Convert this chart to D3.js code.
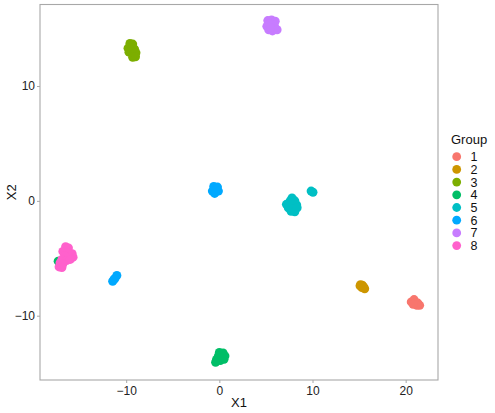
<!DOCTYPE html>
<html>
<head>
<meta charset="utf-8">
<script src="https://cdn.jsdelivr.net/npm/d3@7"></script>
<style>
  body { margin: 0; background: #fff; }
  svg text { font-family: "Liberation Sans", Arial, sans-serif; }
</style>
</head>
<body>
<div id="chart"></div>
<script>
"use strict";

// groups and their colours (ggplot hue palette)
const groups = ["1", "2", "3", "4", "5", "6", "7", "8"];
const colors = ["#F8766D", "#CD9600", "#7CAE00", "#00BE67", "#00BFC4", "#00A9FF", "#C77CFF", "#FF61CC"];

// point coordinates per group [X1, X2]
const group1 = [[20.6,-8.8],[20.9,-8.6],[21.0,-8.9],[21.3,-8.9],[21.5,-9.1],[21.2,-9.1],[20.8,-9.0]];
const group2 = [[15.15,-7.3],[15.35,-7.35],[15.5,-7.5],[15.6,-7.65],[15.3,-7.55],[15.1,-7.4]];
const group3 = [[-9.6,13.7],[-9.3,13.65],[-9.8,13.3],[-9.4,13.3],[-9.1,13.2],[-9.7,12.95],[-9.2,12.8],[-8.95,12.9],[-9.3,12.5],[-9.0,12.55]];
const group4 = [[0.0,-13.2],[0.4,-13.25],[0.6,-13.5],[-0.1,-13.5],[0.3,-13.7],[-0.3,-13.8],[0.1,-13.9],[-0.4,-14.05],[0.5,-13.8],[-17.3,-5.25]];
const group5 = [[7.8,0.25],[7.6,0.0],[8.1,0.0],[7.2,-0.3],[7.7,-0.35],[8.3,-0.35],[7.4,-0.6],[7.9,-0.7],[8.35,-0.6],[7.7,-0.9],[8.1,-0.95],[9.85,0.85],[10.05,0.75]];
const group6 = [[-0.6,1.25],[-0.2,1.2],[-0.75,0.85],[-0.3,0.9],[-0.1,0.85],[-0.5,0.65],[-11.45,-7.0],[-11.2,-6.75],[-11.0,-6.5],[-11.3,-6.85]];
const group7 = [[5.2,15.7],[5.6,15.75],[6.0,15.65],[5.4,15.4],[5.1,15.2],[5.9,15.3],[5.3,14.9],[5.7,14.8],[6.2,14.9],[5.5,15.1]];
const group8 = [[-16.5,-4.0],[-16.2,-4.1],[-16.8,-4.4],[-16.3,-4.5],[-15.8,-4.6],[-15.7,-4.9],[-16.1,-4.9],[-16.6,-4.8],[-16.9,-5.1],[-16.4,-5.2],[-17.1,-5.4],[-16.8,-5.5],[-17.2,-5.75],[-16.9,-5.8],[-16.0,-5.1]];

const xTicks = [-10, 0, 10, 20];
const yTicks = [-10, 0, 10];

const width = 495, height = 413;
const margin = {top: 4.5, right: 57, bottom: 33, left: 40};

const allGroups = [group1, group2, group3, group4, group5, group6, group7, group8];
let points = [];
allGroups.forEach(function(g, i) {
    g.forEach(function(p) { points.push({x: p[0], y: p[1], group: groups[i]}); });
});

const svg = d3.select("#chart").append("svg")
    .attr("width", width)
    .attr("height", height);

const scaleX = d3.scaleLinear().domain([-19.25, 23.47]).range([margin.left, width - margin.right]);
const scaleY = d3.scaleLinear().domain([-15.6, 17.1]).range([height - margin.bottom, margin.top]);
const color = d3.scaleOrdinal().domain(groups).range(colors);

// points
svg.append("g")
    .selectAll("circle")
    .data(points)
    .join("circle")
    .attr("cx", d => scaleX(d.x))
    .attr("cy", d => scaleY(d.y))
    .attr("r", 4.5)
    .attr("fill", d => color(d.group));

// panel border
svg.append("rect")
    .attr("x", margin.left)
    .attr("y", margin.top)
    .attr("width", width - margin.right - margin.left)
    .attr("height", height - margin.bottom - margin.top)
    .attr("fill", "none")
    .attr("stroke", "#A8A8A8")
    .attr("stroke-width", 1.1);

// axes
const xAxis = svg.append("g")
    .attr("transform", `translate(0, ${height - margin.bottom})`)
    .call(d3.axisBottom(scaleX).tickValues(xTicks).tickSize(3).tickPadding(3).tickFormat(d3.format("d")));
const yAxis = svg.append("g")
    .attr("transform", `translate(${margin.left}, 0)`)
    .call(d3.axisLeft(scaleY).tickValues(yTicks).tickSize(3).tickPadding(2).tickFormat(d3.format("d")));

[xAxis, yAxis].forEach(function(a) {
    a.select(".domain").remove();
    a.selectAll("line").attr("stroke", "#A8A8A8");
    a.selectAll("text")
        .attr("font-size", 12)
        .attr("fill", "#222")
        .style("font-family", "Liberation Sans, Arial, sans-serif");
});

// axis titles
svg.append("text")
    .attr("x", (margin.left + width - margin.right) / 2)
    .attr("y", 406.5)
    .attr("text-anchor", "middle")
    .attr("font-size", 13)
    .attr("fill", "#111")
    .text("X1");
svg.append("text")
    .attr("transform", `translate(15.5, ${(margin.top + height - margin.bottom) / 2}) rotate(-90)`)
    .attr("text-anchor", "middle")
    .attr("font-size", 13)
    .attr("fill", "#111")
    .text("X2");

// legend
const legend = svg.append("g").attr("transform", "translate(451, 0)");
legend.append("text")
    .attr("x", 0)
    .attr("y", 143.5)
    .attr("font-size", 13)
    .attr("fill", "#111")
    .text("Group");
const item = legend.selectAll("g.item")
    .data(groups)
    .join("g")
    .attr("class", "item")
    .attr("transform", (d, i) => `translate(0, ${156.7 + i * 12.7})`);
item.append("circle")
    .attr("cx", 5.7)
    .attr("cy", 0)
    .attr("r", 4.4)
    .attr("fill", d => color(d));
item.append("text")
    .attr("x", 19.5)
    .attr("y", 4.4)
    .attr("font-size", 12.5)
    .attr("fill", "#111")
    .text(d => d);
</script>
</body>
</html>
